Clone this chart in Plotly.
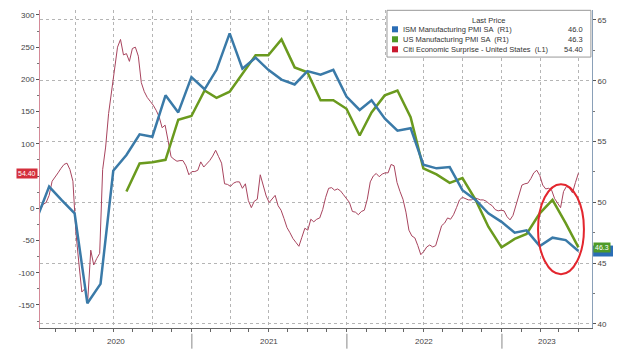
import pandas as pd
import plotly.graph_objects as go

# ---------------- data ----------------
series_names = [
    "ISM Manufacturing PMI SA  (R1)",
    "US Manufacturing PMI SA  (R1)",
    "Citi Economic Surprise - United States  (L1)",
]
last_values = ["46.0", "46.3", "54.40"]

# ISM Manufacturing PMI (monthly, month-end dates, Dec 2019 .. Jun 2023)
ism_start = "2019-12-31"
ism_values = [
    48.5, 51.3, 50.2, 49.1, 41.7, 43.3, 52.6, 53.9, 55.6, 55.4, 58.8, 57.4, 60.3,
    59.3, 60.9, 63.9, 61.0, 61.9, 60.9, 60.1, 59.7, 60.8, 60.5, 60.9, 58.7,
    57.6, 58.4, 56.9, 55.9, 56.1, 53.1, 52.8, 52.9, 51.0, 50.2, 49.1, 48.4,
    47.5, 47.7, 46.4, 47.1, 46.9, 46.0,
]

# US Manufacturing PMI (monthly, Jul 2020 .. Jun 2023)
uspmi_start = "2020-07-31"
uspmi_values = [
    50.9, 53.2, 53.3, 53.5, 56.8, 57.1,
    59.2, 58.6, 59.1, 60.6, 62.1, 62.1, 63.4, 61.1, 60.7, 58.4, 58.4, 57.7,
    55.5, 57.4, 58.8, 59.2, 57.0, 52.8, 52.3, 51.6, 52.0, 50.2, 48.0, 46.3,
    47.0, 47.4, 49.1, 50.2, 48.3, 46.3,
]

# Citi Economic Surprise Index (weekly readings from 2020-01-10)
citi_start = "2020-01-10"
citi_values = [
    -3, 6, 9, 20, 42, 48, 55, 62, 68, 70,
    60, 42, -37, -85, -130, -125, -142, -65, -88, -78,
    -70, 60, 95, 147, 182, 212, 250, 262, 238, 240,
    228, 248, 250, 236, 195, 181, 172, 166, 160, 152,
    142, 125, 129, 105, 80, 76, 73, 74, 74, 66,
    52, 57, 57, 59, 72, 64, 69, 74, 81, 90,
    80, 70, 38, 37, 34, 39, 41, 41, 31, 38,
    12, 1, 11, 14, 52, 36, 19, 9, 15, 20,
    4, -3, -16, -30, -38, -47, -53, -59, -45, -31,
    -34, -17, -21, -17, -15, -2, 17, 31, 32, 28,
    30, 27, 21, 14, 9, -5, -6, -10, -5, -3,
    14, 41, 50, 54, 49, 53, 55, 55, 68, 66,
    40, 26, 14, -6, -34, -43, -46, -58, -72, -67,
    -60, -57, -60, -58, -42, -27, -23, -15, -17, -10,
    1, 13, 17, 15, 13, 13, 16, 15, 13, 13,
    11, 7, 4, -2, -4, -3, -4, -13, -18, -11,
    5, 24, 36, 38, 39, 46, 55, 59, 51, 36,
    30, 31, 28, 15, 7, 1, 26, 34, 31, 24,
    40, 54.4,
]

left_ticks = [-150, -100, -50, 0, 50, 100, 150, 200, 250, 300]
left_tick_text = ["-150", "-100", "-50", "0", "", "100", "150", "200", "250", "300"]
right_ticks = [40, 45, 50, 55, 60, 65]
year_labels = ["2020", "2021", "2022", "2023"]
year_label_dates = ["2020-07-06", "2021-07-02", "2022-07-02", "2023-04-17"]
year_breaks = ["2021-01-01", "2022-01-01", "2023-01-01"]

# ---------------- styling ----------------
BLUE = "#3a7aa8"
GREEN = "#6a9a1e"
RED = "#a8445e"
LEG_COLORS = ["#2a6db5", "#4e9a28", "#c8182e"]
FONT = "Liberation Sans"

ism_dates = pd.date_range(ism_start, periods=len(ism_values), freq=pd.offsets.MonthEnd())
uspmi_dates = pd.date_range(uspmi_start, periods=len(uspmi_values), freq=pd.offsets.MonthEnd())
citi_dates = pd.date_range(citi_start, periods=len(citi_values), freq="7D")
mid_quarters = pd.date_range("2020-02-15", "2023-08-01", freq=pd.DateOffset(months=3))

fig = go.Figure()
fig.add_trace(go.Scatter(x=citi_dates, y=citi_values, yaxis="y", mode="lines",
                         line=dict(color=RED, width=1), name=series_names[2]))
fig.add_trace(go.Scatter(x=uspmi_dates, y=uspmi_values, yaxis="y2", mode="lines",
                         line=dict(color=GREEN, width=2.5), name=series_names[1]))
fig.add_trace(go.Scatter(x=ism_dates, y=ism_values, yaxis="y2", mode="lines",
                         line=dict(color=BLUE, width=2.5), name=series_names[0]))

fig.update_layout(
    template="none",
    width=640, height=358,
    margin=dict(l=40, r=48, t=10, b=30, autoexpand=False),
    paper_bgcolor="white", plot_bgcolor="white",
    showlegend=False,
    hovermode=False,
    font=dict(family=FONT, size=8, color="#444"),
    xaxis=dict(
        type="date", range=["2020-01-09 12:00", "2023-08-01"],
        automargin=False,
        showline=True, linecolor="#666", linewidth=1,
        dtick="M3", tick0="2020-01-01",
        ticks="outside", ticklen=3, tickcolor="#666",
        showticklabels=False,
        showgrid=True, gridcolor="#b5b5b5", griddash="dot", gridwidth=1,
        minor=dict(tickmode="array", tickvals=list(mid_quarters), ticks="outside",
                   ticklen=3, tickcolor="#666", showgrid=False),
        zeroline=False,
    ),
    yaxis=dict(
        range=[-185.8, 307.7],
        automargin=False,
        tickmode="array", tickvals=left_ticks, ticktext=left_tick_text,
        ticks="outside", ticklen=3, tickcolor="#555",
        showline=True, linecolor="#d48a98", linewidth=1,
        showgrid=False, zeroline=False,
        minor=dict(dtick=25, tick0=0, ticks="outside", ticklen=2, tickcolor="#777", showgrid=False),
        tickfont=dict(size=8, color="#444"),
    ),
    yaxis2=dict(
        overlaying="y", side="right",
        range=[39.67, 65.82],
        automargin=False,
        tickmode="array", tickvals=right_ticks,
        ticks="outside", ticklen=3, tickcolor="#555",
        showline=True, linecolor="#8aa0b8", linewidth=1,
        showgrid=True, gridcolor="#b5b5b5", griddash="dot", gridwidth=1,
        zeroline=False,
        minor=dict(dtick=2.5, tick0=40, ticks="outside", ticklen=2, tickcolor="#777", showgrid=False),
        tickfont=dict(size=8, color="#444"),
    ),
)

annotations = []
shapes = []

# year labels and separators
for lab, d in zip(year_labels, year_label_dates):
    annotations.append(dict(x=d, xref="x", y=-0.041, yref="paper", text=lab,
                            showarrow=False, font=dict(size=8, color="#444"),
                            xanchor="center", yanchor="middle"))
for d in year_breaks:
    shapes.append(dict(type="line", xref="x", yref="paper", x0=d, x1=d,
                       y0=-0.018, y1=-0.065, line=dict(color="#888", width=1)))

# legend box
shapes.append(dict(type="rect", xref="paper", yref="paper", x0=0.6286, x1=0.998,
                   y0=0.852, y1=0.999, line=dict(color="#999", width=1), fillcolor="white",
                   layer="above"))
annotations.append(dict(x=0.8116, y=0.966, xref="paper", yref="paper", text="Last Price",
                        showarrow=False, font=dict(size=7.5, color="#333"),
                        xanchor="center", yanchor="middle"))
row_y = [0.9393, 0.9079, 0.8764]
for name, val, col, yy in zip(series_names, last_values, LEG_COLORS, row_y):
    shapes.append(dict(type="rect", xref="paper", yref="paper", x0=0.6377, x1=0.6486,
                       y0=yy - 0.0095, y1=yy + 0.0095, fillcolor=col, line=dict(width=0),
                       layer="above"))
    annotations.append(dict(x=0.654, y=yy, xref="paper", yref="paper", text=name,
                            showarrow=False, font=dict(size=7.5, color="#333"),
                            xanchor="left", yanchor="middle"))
    annotations.append(dict(x=0.9873, y=yy, xref="paper", yref="paper", text=val,
                            showarrow=False, font=dict(size=7.5, color="#333"),
                            xanchor="right", yanchor="middle"))

# last-value badges (blue badge mostly hidden under the green one)
shapes.append(dict(type="rect", xref="paper", yref="y2", x0=1.002, x1=1.038,
                   y0=float(last_values[0]) - 0.45, y1=float(last_values[0]) + 0.45,
                   fillcolor="#2a6db5", line=dict(width=0), layer="above"))
annotations.append(dict(x=0, xref="paper", xanchor="right", xshift=-2,
                        y=float(last_values[2]), yref="y", yanchor="middle",
                        text=last_values[2], showarrow=False, bgcolor="#d42f3c",
                        borderpad=1, font=dict(size=7, color="white")))
annotations.append(dict(x=1, xref="paper", xanchor="left", xshift=1,
                        y=float(last_values[1]), yref="y2", yanchor="middle",
                        text=last_values[1], showarrow=False, bgcolor="#4e9a28",
                        borderpad=1, font=dict(size=7, color="white")))

# red highlight ellipse
shapes.append(dict(type="circle", xref="x", yref="y2", x0="2023-03-27", x1="2023-07-13",
                   y0=44.1, y1=51.5, line=dict(color="#e3262e", width=2), layer="above"))

fig.update_layout(annotations=annotations, shapes=shapes)
# remove the default page margin so the figure fills the 640x358 window exactly
fig.write_html(
    "out.html",
    config={"displayModeBar": False, "staticPlot": True},
    post_script="document.body.style.margin='0';document.body.style.overflow='hidden';",
)
